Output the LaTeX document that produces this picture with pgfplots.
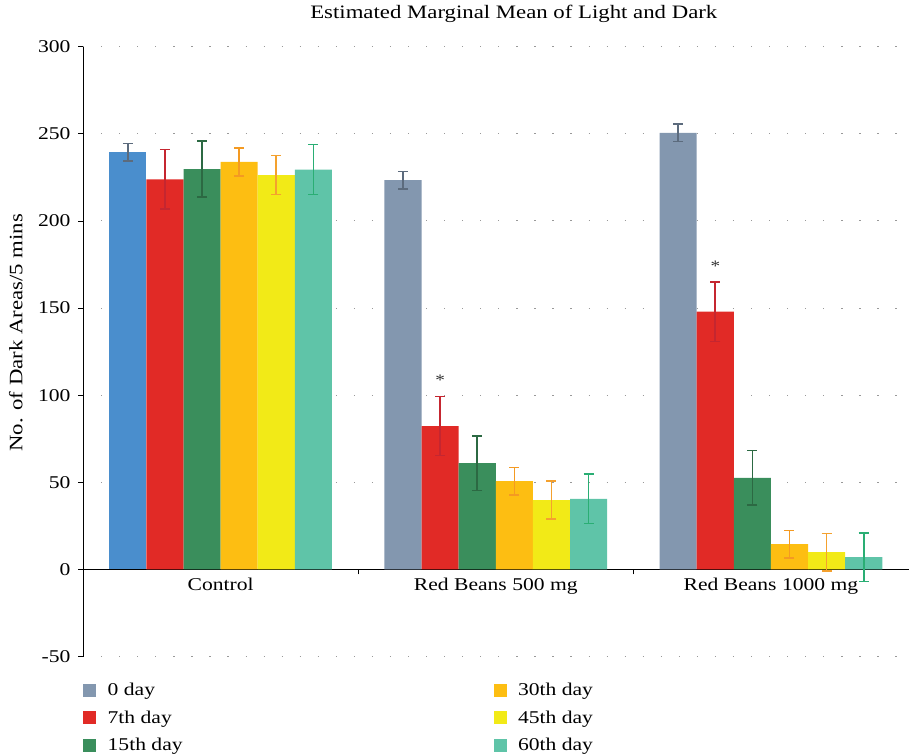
\documentclass[border=0pt]{standalone}
\usepackage{fontspec}
\setmainfont{Liberation Serif}[FakeStretch=1.2]
\usepackage{pgfplots}
\pgfplotsset{compat=1.18}
\definecolor{c0}{HTML}{8397AF}
\definecolor{cb}{HTML}{4A8ECD}
\definecolor{c7}{HTML}{E12A26}
\definecolor{c15}{HTML}{3A8E5C}
\definecolor{c30}{HTML}{FDBE12}
\definecolor{c45}{HTML}{F2EA17}
\definecolor{c60}{HTML}{5FC4A8}
\definecolor{e0}{HTML}{5C6B7D}
\definecolor{e7}{HTML}{C52630}
\definecolor{e15}{HTML}{2C6943}
\definecolor{e30}{HTML}{F49A22}
\definecolor{e45}{HTML}{F4A12E}
\definecolor{e60}{HTML}{2AAE74}
\pgfplotsset{
  sq/.style={legend image code/.code={\fill[#1] (0bp,-6bp) rectangle (12bp,6bp);}},
  mybar/.style={ybar, bar width=37bp, bar shift=0pt, fill=#1, draw=none, forget plot},
  myerr/.style={error bars/.cd, y dir=both, y explicit, error mark=-,
     error bar style={#1, line width=1.6bp},
     error mark options={#1, line width=1.6bp, mark size=5bp, rotate=90}},
}
\begin{document}
\begin{tikzpicture}
\begin{axis}[
  scale only axis, width=823bp, height=608bp,
  xmin=-0.5, xmax=2.5, ymin=-50, ymax=300,
  axis y line*=left, axis x line*=middle,
  hide obscured x ticks=false,
  ytick={-50,0,50,100,150,200,250,300},
  xtick={0,1,2},
  xticklabels={Control, Red Beans 500 mg, Red Beans 1000 mg},
  major x tick style={draw=none},
  minor xtick={0.5,1.5},
  minor x tick style={black, line width=0.8bp},
  minor tick length=5bp, major tick length=5bp,
  tick align=outside,
  y tick style={black, line width=0.8bp},
  axis line style={black, line width=1bp},
  ymajorgrids,
  grid style={gray!80, line width=1bp, dash pattern=on 1.2bp off 16.8bp},
  /pgf/number format/assume math mode=true,
  ticklabel style={font=\fontsize{18}{20}\selectfont},
  yticklabel style={xshift=-4bp},
  title={Estimated Marginal Mean of Light and Dark},
  title style={font=\fontsize{19}{22}\selectfont, at={(0.5,1)}, anchor=south, yshift=13bp, xshift=18bp, inner ysep=5bp},
  ylabel={No. of Dark Areas/5 mins},
  ylabel style={font=\fontsize{19}{22}\selectfont, at={(axis description cs:-0.0814,0.531)}, anchor=center, inner ysep=9bp},
  legend columns=2,
  legend style={at={(0,-0.04)}, anchor=north west, draw=none, fill=none,
    inner sep=0pt, row sep=9.5bp, font=\fontsize{18}{20}\selectfont,
    /tikz/every odd column/.append style={column sep=10bp},
    /tikz/every even column/.append style={column sep=308bp}},
  legend cell align=left,
]
% 0 day
\addplot[mybar=c0, myerr=e0] coordinates {(0.6628,223.4) +- (0,5) (1.6628,250.5) +- (0,5)};
\addplot[mybar=cb, myerr=e0] coordinates {(-0.3372,239.5) +- (0,5)};
% 7th day
\addplot[mybar=c7, myerr=e7] coordinates {(-0.2023,223.9) +- (0,17) (0.7977,82.3) +- (0,17) (1.7977,147.9) +- (0,17)};
% 15th day
\addplot[mybar=c15, myerr=e15] coordinates {(-0.0674,229.8) +- (0,16) (0.9326,61) +- (0,15.6) (1.9326,52.6) +- (0,15.7)};
% 30th day
\addplot[mybar=c30, myerr=e30] coordinates {(0.0674,233.9) +- (0,8) (1.0674,50.7) +- (0,7.9) (2.0674,14.5) +- (0,7.8)};
% 45th day
\addplot[mybar=c45, myerr=e45] coordinates {(0.2023,226.3) +- (0,11.2) (1.2023,39.8) +- (0,10.9) (2.2023,9.9) +- (0,10.8)};
% 60th day
\addplot[mybar=c60, myerr=e60] coordinates {(0.3372,229.5) +- (0,14.3) (1.3372,40.5) +- (0,14.1) (2.3372,7.0) +- (0,14)};
% significance markers
\node[font=\fontsize{16}{18}\selectfont, text=black!80] at (axis cs:0.798,108.5) {*};
\node[font=\fontsize{16}{18}\selectfont, text=black!80] at (axis cs:1.798,174) {*};
% legend
\addlegendimage{sq=c0}\addlegendentry{0 day}
\addlegendimage{sq=c30}\addlegendentry{30th day}
\addlegendimage{sq=c7}\addlegendentry{7th day}
\addlegendimage{sq=c45}\addlegendentry{45th day}
\addlegendimage{sq=c15}\addlegendentry{15th day}
\addlegendimage{sq=c60}\addlegendentry{60th day}
\end{axis}
\end{tikzpicture}
\end{document}
